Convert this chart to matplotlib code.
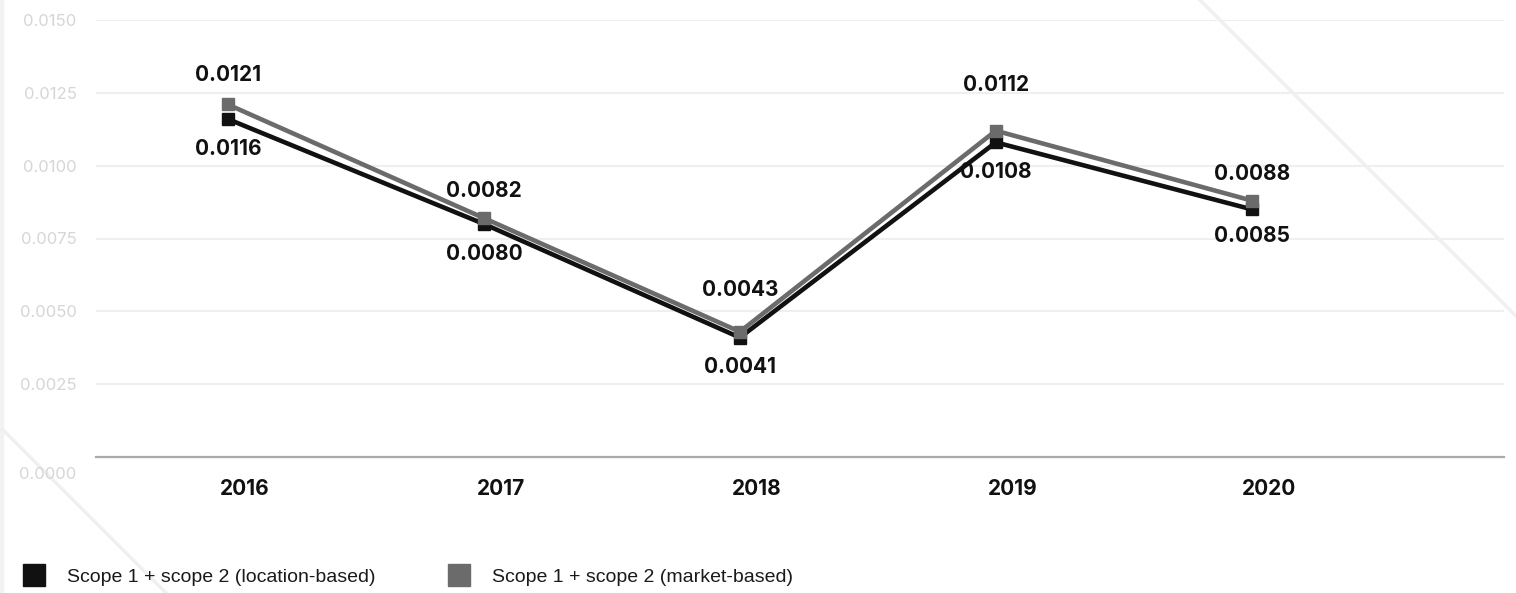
import matplotlib
matplotlib.use('Agg')
import matplotlib.pyplot as plt
from matplotlib.lines import Line2D
from matplotlib.patches import Rectangle
from matplotlib.transforms import ScaledTranslation

# emission intensity per year, two scope-2 accounting methods
years = ['2016', '2017', '2018', '2019', '2020']
location_based = [0.0116, 0.0080, 0.0041, 0.0108, 0.0085]
market_based = [0.0121, 0.0082, 0.0043, 0.0112, 0.0088]
y_ticks = [0.0, 0.0025, 0.0050, 0.0075, 0.0100, 0.0125, 0.0150]
series_names = ['Scope 1 + scope 2 (location-based)',
                'Scope 1 + scope 2 (market-based)']

# label distance from its point, in pixels (pushed further where a line climbs)
above_px = [29, 27, 42, 46, 27]
below_px = [30, 30, 29, 30, 27]

BLACK = '#111111'
GREY = '#6b6b6b'
W, H = 1516, 593

plt.rcParams['font.family'] = ['Inter', 'DejaVu Sans']

fig = plt.figure(figsize=(W / 100, H / 100), dpi=100)


def fx(x):
    return x / W


def fy(y):
    return 1 - y / H


# faint page decoration behind the chart
fig.patches.append(Rectangle((0, 0), fx(3), 1, transform=fig.transFigure,
                             color='#f2f2f2', zorder=-2))
for (x0, y0), (x1, y1) in [((1200, 0), (1516, 316)), ((3, 430), (166, 593))]:
    fig.add_artist(Line2D([fx(x0), fx(x1)], [fy(y0), fy(y1)],
                          transform=fig.transFigure, color='#f0f0f0',
                          lw=2.5, zorder=-1))

ax = fig.add_axes([fx(96), fy(457), fx(1504 - 96), (457 - 20) / H])
ax.patch.set_alpha(0)

xs = list(range(len(years)))
ax.plot(xs, location_based, color=BLACK, lw=3.3, marker='s', ms=8.5,
        solid_joinstyle='miter', zorder=3)
ax.plot(xs, market_based, color=GREY, lw=3.3, marker='s', ms=8.5,
        solid_joinstyle='miter', zorder=4)

pt = 72 / 100
for x, v, d in zip(xs, market_based, above_px):
    ax.annotate(f'{v:.4f}', (x, v), xytext=(0, d * pt), textcoords='offset points',
                ha='center', va='center', fontsize=15, fontweight='bold',
                color=BLACK)
for x, v, d in zip(xs, location_based, below_px):
    ax.annotate(f'{v:.4f}', (x, v), xytext=(0, -d * pt), textcoords='offset points',
                ha='center', va='center', fontsize=15, fontweight='bold',
                color=BLACK)

ax.set_xlim(-0.515, 4.985)
ax.set_ylim(0, 0.015)
ax.set_xticks(xs)
ax.set_xticklabels(years, fontsize=15, fontweight='bold', color=BLACK)
ax.set_yticks(y_ticks)
ax.set_yticklabels([f'{t:.4f}' for t in y_ticks], fontsize=12, color='#d6d6d6')
ax.tick_params(axis='both', length=0)
ax.tick_params(axis='x', pad=16)
ax.tick_params(axis='y', pad=14)

ax.yaxis.grid(True, color='#efefef', lw=1.5)
ax.set_axisbelow(True)
for side in ['top', 'right', 'left']:
    ax.spines[side].set_visible(False)
ax.spines['bottom'].set_color('#aaaaaa')
ax.spines['bottom'].set_linewidth(1.6)

# year labels sit a little right of the points; zero label drops below the axis
for lbl in ax.get_xticklabels():
    lbl.set_transform(lbl.get_transform() + ScaledTranslation(0.17, 0, fig.dpi_scale_trans))
zero = ax.get_yticklabels()[0]
zero.set_transform(zero.get_transform() + ScaledTranslation(0, -0.16, fig.dpi_scale_trans))

handles = [Line2D([], [], ls='none', marker='s', ms=15.5, color=c)
           for c in (BLACK, GREY)]
fig.legend(handles, series_names, loc='center left',
           bbox_to_anchor=(fx(22), fy(577)), ncol=2, frameon=False,
           prop={'family': 'Liberation Sans', 'size': 14},
           labelcolor='#1a1a1a', handlelength=1.2, handletextpad=1.1,
           columnspacing=3.7, borderpad=0, borderaxespad=0)

fig.savefig('out.png', dpi=100)
